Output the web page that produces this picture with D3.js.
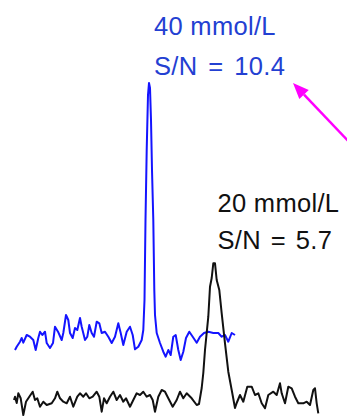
<!DOCTYPE html>
<html><head><meta charset="utf-8">
<script src="https://cdn.jsdelivr.net/npm/d3@7"></script>
<style>html,body{margin:0;padding:0;background:#fff;}svg{display:block;}</style>
</head><body>
<svg id="chart" width="347" height="418"></svg>
<script>
// Blue trace (40 mmol/L): position, intensity
const blueX = [15,16.7,20,21.7,23.3,26.7,30,33.3,35.7,38.3,40,42.3,45,46.7,50,53,55,58,61.7,63.3,66,68.3,70,72.7,75,77.3,80,81.7,85,87.3,89.3,91.7,94,96.7,99.3,101.7,105,108.3,111.7,115,118.3,120.7,123.3,126.7,130,132.7,135,138.3,141.7,143.3,144.5,145.5,146.7,148,149,150,151,152,153.3,154.3,155,156.7,160,163.3,165.7,168.3,170.7,173.3,175.7,178.3,180.7,183.3,186,189.3,192.7,196.7,200,204,208.3,213.3,218.3,221.7,225,228.3,231.7,235];
const blueY = [68,71.3,76.3,80,75.3,83,81.3,78,68,80,86.3,83,86.3,75,70,75,91.3,86.3,78,85,103,98,85,80,90,88,100,91.3,78,81.3,93,85,81.3,96.3,94.7,85,86.3,81.3,75,81.3,94.7,85,73,86.3,91.3,83,68.7,71.3,78,88,118,198,268,323,335,330,298,248,198,128,103,85,75,66.3,61.3,68,63,81.3,83,68,58,66.3,80,86.3,81.3,75.3,81.3,85,86.3,85,85,81.3,83,76.3,85,83];
// Black trace (20 mmol/L)
const blackX = [14,15,16.7,18.3,20.7,23.3,26,29.3,32.7,35,37.3,40,43.3,46.7,51.7,55,57.3,60,63.3,66.7,70,73.3,77.3,80,83.3,86,89.3,92.7,96.7,99.3,101.7,104,106.7,110,113.3,116.7,120,123.3,126,130,133.3,136.7,140,143.3,146.7,150,152.7,155,158.3,161.7,165,168.3,172.7,176.7,180,183.3,186.7,191.7,196.7,199,201.7,203.3,205,208.3,210,211.7,213.3,215,216.7,219.3,221.7,225,228.3,231.7,235,236.7,240,243.3,247.3,251.7,255,258.3,261.7,265,268.3,273.3,276.7,280,281.7,285,288.3,291.7,295,298.3,303.3,306.7,310,313.3,315,316.7,318.3];
const blackY = [18,21.3,15,24.7,19.7,3,16.3,21.3,26.3,18,19.7,11.3,16.3,13,14.7,19.7,26.3,19.7,16.3,14.7,21.3,11.3,21.3,24.7,21.3,24.7,19.7,21.3,26.3,21.3,6.3,19.7,14.7,21.3,26.3,18,23,16.3,19.7,11.3,18,24.7,23,26.3,21.3,23,18,6.3,21.3,28,26.3,19.7,11.3,18,26.3,19.7,24.7,19.7,13,14,30,45,68,101.3,131.3,140,154.7,154.7,138,128,104.7,74.7,46.3,28,10,15,23,16.3,31.3,31.3,23,24.7,14.7,9.7,23,26.3,23,34.7,24.7,14.7,31.3,29.7,21.3,14.7,14.7,16.3,13,28,29.7,14.7,4.7];
// Annotation labels
const blueLabels = ["40 mmol/L", "S/N = 10.4"];
const blackLabels = ["20 mmol/L", "S/N = 5.7"];

const W = 347, H = 418;
const svg = d3.select("#chart");
const x = d3.scaleLinear().domain([0, 347]).range([0, W]);
const y = d3.scaleLinear().domain([0, 418]).range([H, 0]);

const line = d3.line().x(d => x(d[0])).y(d => y(d[1]));

svg.append("path")
  .datum(blueX.map((v, i) => [v, blueY[i]]))
  .attr("d", line).attr("fill", "none")
  .attr("stroke", "#1414ff").attr("stroke-width", 2).attr("stroke-linejoin", "round");

svg.append("path")
  .datum(blackX.map((v, i) => [v, blackY[i]]))
  .attr("d", line).attr("fill", "none")
  .attr("stroke", "#111").attr("stroke-width", 2).attr("stroke-linejoin", "round");

const font = "'Liberation Sans', Arial, Helvetica, sans-serif";
svg.selectAll("text.blue").data(blueLabels).enter().append("text")
  .attr("class", "blue")
  .attr("x", x(154)).attr("y", (d, i) => y(418 - 35) + i * 40)
  .attr("font-family", font).attr("font-size", 25.5).attr("letter-spacing", 0.3)
  .attr("word-spacing", (d, i) => i ? 3.5 : 0)
  .attr("fill", "#2340d2").text(d => d);

svg.selectAll("text.black").data(blackLabels).enter().append("text")
  .attr("class", "black")
  .attr("x", x(217.5)).attr("y", (d, i) => y(418 - 212) + i * 36.5)
  .attr("font-family", font).attr("font-size", 25.5).attr("letter-spacing", 0.3)
  .attr("word-spacing", (d, i) => i ? 2.5 : 0)
  .attr("fill", "#111").text(d => d);

// Magenta arrow
const tip = [293, 418 - 83], tail = [352, 418 - 145];
const ang = Math.atan2(y(tail[1]) - y(tip[1]), x(tail[0]) - x(tip[0]));
const hl = 16, hw = 6.5;
const bx = x(tip[0]) + hl * Math.cos(ang), by = y(tip[1]) + hl * Math.sin(ang);
svg.append("line")
  .attr("x1", bx).attr("y1", by).attr("x2", x(tail[0])).attr("y2", y(tail[1]))
  .attr("stroke", "#ff00ff").attr("stroke-width", 2.5);
svg.append("path")
  .attr("d", `M${x(tip[0])},${y(tip[1])} L${bx - hw * Math.sin(ang)},${by + hw * Math.cos(ang)} L${bx + hw * Math.sin(ang)},${by - hw * Math.cos(ang)} Z`)
  .attr("fill", "#ff00ff");
</script>
</body></html>
